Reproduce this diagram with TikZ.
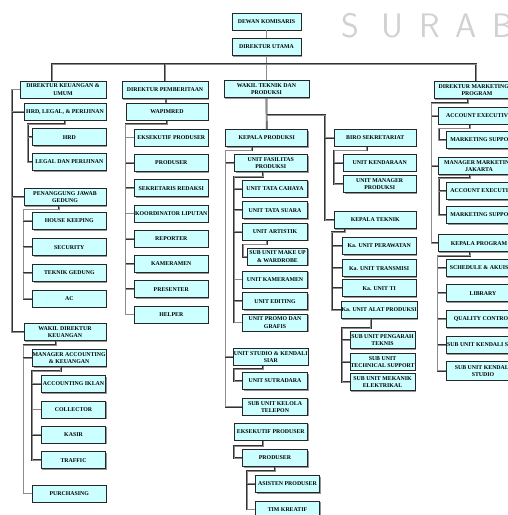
\documentclass[tikz,border=0pt]{standalone}
\usepackage{fontspec}
\setmainfont{Liberation Serif}
\usetikzlibrary{shadows}
\definecolor{boxcyan}{RGB}{204,255,255}
\begin{document}
\begin{tikzpicture}
[x=1pt,y=-1pt,
 boxdecorate/.style={shape=rectangle,draw=black!85,line width=0.8pt,fill=boxcyan,
   drop shadow={shadow xshift=1.2pt,shadow yshift=-1.2pt,fill=black!55,opacity=0.75},
   minimum height=17pt,inner sep=0.4pt,align=center,
   font=\fontsize{5.85}{7.2}\selectfont\bfseries},
 headbox/.style={boxdecorate,minimum width=86pt},
 leadbox/.style={boxdecorate,minimum width=82pt},
 unitbox/.style={boxdecorate,minimum width=73.5pt},
 subbox/.style={boxdecorate,minimum width=64.6pt},
 linedecorate/.style={draw=black!80,line width=0.45pt,double=black!45,double distance=0.8pt}]
\useasboundingbox (0,0) rectangle (508,515);
\clip (0,0) rectangle (508,515);
% watermark
\foreach \ch/\xx in {S/350,U/392,R/430,A/466,B/503}
  \node[text=black!18,font=\fontsize{34}{34}\selectfont\sffamily] at (\xx,26) {\ch};
% top
\node (kom) at (266.5,21.5) [boxdecorate,minimum width=69pt] {DEWAN KOMISARIS};
\node (utama) at (266.5,47) [boxdecorate,minimum width=69pt] {DIREKTUR UTAMA};
% keuangan
\node (dku) at (63,89.5) [headbox] {DIREKTUR KEUANGAN \&\\UMUM};
\node (hrdlegal) at (65,111.7) [leadbox] {HRD, LEGAL, \& PERIJINAN};
\node (hrd) at (69.3,137.2) [unitbox] {HRD};
\node (legal) at (69.3,162) [unitbox] {LEGAL DAN PERIJINAN};
\node (pjg) at (65,197.2) [leadbox] {PENANGGUNG JAWAB\\GEDUNG};
\node (hk) at (69.3,220.8) [unitbox] {HOUSE KEEPING};
\node (sec) at (69.3,247.2) [unitbox] {SECURITY};
\node (tg) at (69.3,273) [unitbox] {TEKNIK GEDUNG};
\node (ac) at (69.3,298.7) [unitbox] {AC};
\node (wdk) at (65,332.3) [leadbox] {WAKIL DIREKTUR\\KEUANGAN};
\node (mak) at (69.2,358) [unitbox] {MANAGER ACCOUNTING\\\& KEUANGAN};
\node (aci) at (73.5,383.8) [subbox] {ACCOUNTING IKLAN};
\node (col) at (73.5,409.5) [subbox] {COLLECTOR};
\node (kasir) at (73.5,434.7) [subbox] {KASIR};
\node (traffic) at (73.5,460.3) [subbox] {TRAFFIC};
\node (purch) at (69.2,493.5) [unitbox] {PURCHASING};
% pemberitaan
\node (dp) at (165,90) [headbox] {DIREKTUR PEMBERITAAN};
\node (wap) at (167,111.7) [leadbox] {WAPIMRED};
\node (ep) at (171.3,137.5) [unitbox] {EKSEKUTIF PRODUSER};
\node (prod) at (171.3,162.8) [unitbox] {PRODUSER};
\node (sr) at (171.3,188.1) [unitbox] {SEKRETARIS REDAKSI};
\node (kl) at (171.3,213.4) [unitbox] {KOORDINATOR LIPUTAN};
\node (rep) at (171.3,238.7) [unitbox] {REPORTER};
\node (kam) at (171.3,264) [unitbox] {KAMERAMEN};
\node (pre) at (171.3,289.3) [unitbox] {PRESENTER};
\node (hel) at (171.3,314.6) [unitbox] {HELPER};
% teknik dan produksi
\node (wtp) at (266.5,89.3) [headbox,minimum width=85pt] {WAKIL TEKNIK DAN\\PRODUKSI};
\node (kp) at (266.7,138) [leadbox] {KEPALA PRODUKSI};
\node (ufp) at (270.8,163.3) [unitbox,minimum width=73pt] {UNIT FASILITAS\\PRODUKSI};
\node (utc) at (275,188.7) [subbox] {UNIT TATA CAHAYA};
\node (uts) at (275,210.3) [subbox] {UNIT TATA SUARA};
\node (ua) at (275,231.7) [subbox] {UNIT ARTISTIK};
\node (sumu) at (277.5,256.7) [boxdecorate,minimum width=59.6pt] {SUB UNIT MAKE UP\\\& WARDROBE};
\node (uk) at (275,279.5) [subbox] {UNIT KAMERAMEN};
\node (ue) at (275,301.2) [subbox] {UNIT EDITING};
\node (upg) at (275,322.5) [subbox] {UNIT PROMO DAN\\GRAFIS};
\node (usks) at (270.8,356.7) [unitbox,minimum width=73pt] {UNIT STUDIO \& KENDALI\\SIAR};
\node (usut) at (275,381) [subbox] {UNIT SUTRADARA};
\node (sukt) at (275,406.7) [subbox] {SUB UNIT KELOLA\\TELEPON};
\node (ep2) at (270.8,431.7) [unitbox,minimum width=73pt] {EKSEKUTIF PRODUSER};
\node (prod2) at (275,458) [subbox] {PRODUSER};
\node (ap) at (287.5,483.8) [boxdecorate,minimum width=63.6pt] {ASISTEN PRODUSER};
\node (tk) at (287.5,509.5) [boxdecorate,minimum width=63.6pt] {TIM KREATIF};
\node (bs) at (375.2,137.7) [leadbox] {BIRO SEKRETARIAT};
\node (uken) at (379.7,162.7) [unitbox,minimum width=72.7pt] {UNIT KENDARAAN};
\node (ump) at (379.7,184.3) [unitbox,minimum width=72.7pt] {UNIT MANAGER\\PRODUKSI};
\node (kt) at (375.2,220) [leadbox] {KEPALA TEKNIK};
\node (kupw) at (379.2,246) [unitbox] {Ka. UNIT PERAWATAN};
\node (kutr) at (379.2,268.3) [unitbox] {Ka. UNIT TRANSMISI};
\node (kuti) at (379.2,288.3) [unitbox] {Ka. UNIT TI};
\node (kuap) at (379.2,310) [unitbox] {Ka. UNIT ALAT PRODUKSI};
\node (sup) at (382.5,340) [boxdecorate,minimum width=65pt] {SUB UNIT PENGARAH\\TEKNIS};
\node (sts) at (382.5,361.7) [boxdecorate,minimum width=65pt] {SUB UNIT\\TECHNICAL SUPPORT};
\node (sme) at (382.5,382) [boxdecorate,minimum width=65pt] {SUB UNIT MEKANIK\\ELEKTRIKAL};
% marketing
\node (dmp) at (477,90) [headbox] {DIREKTUR MARKETING \&\\PROGRAM};
\node (ae1) at (479,115.7) [leadbox] {ACCOUNT EXECUTIVE};
\node (ms1) at (483.3,140) [unitbox] {MARKETING SUPPORT};
\node (mmj) at (479,165.8) [leadbox] {MANAGER MARKETING\\JAKARTA};
\node (ae2) at (483.3,191) [unitbox] {ACCOUNT EXECUTIVE};
\node (ms2) at (483.3,215) [unitbox] {MARKETING SUPPORT};
\node (kpg) at (479,243.3) [leadbox] {KEPALA PROGRAM};
\node (sa) at (483,268) [unitbox] {SCHEDULE \& AKUISISI};
\node (lib) at (483,293.3) [unitbox] {LIBRARY};
\node (qc) at (483,319) [unitbox] {QUALITY CONTROL};
\node (suks) at (483,345) [unitbox] {SUB UNIT KENDALI SIAR};
\node (sukst) at (483,370.8) [unitbox,minimum height=18.3pt] {SUB UNIT KENDALI\\STUDIO};
% edges or lines
\begin{scope}[on background layer/.try]
\coordinate (busL) at (52,64);
\coordinate (busR) at (476,64);
\coordinate (sA) at (11.7,89.5);
\coordinate (tB) at (325,115);
\draw[linedecorate] (kom) -- (utama);
\draw[linedecorate] (utama) -- (utama |- busL);
\draw[linedecorate] (busL |- dku.north) -- (busL) -- (busR) -- (busR |- dmp.north);
\draw[linedecorate] (busL -| dp.north) -- (dp.north);
\draw[linedecorate] (busL -| wtp.north) -- (wtp.north);
% keuangan
\draw[linedecorate] (dku.west) -- (sA) |- (wdk.west);
\foreach \n in {hrdlegal,pjg} \draw[linedecorate] (sA |- \n.west) -- (\n.west);
\draw[linedecorate] (hrdlegal.south) -- ++(0,3.5) -| ([xshift=-4.4pt]legal.west) -- (legal.west);
\draw[linedecorate] ([xshift=-4.4pt]hrd.west) -- (hrd.west);
\draw[linedecorate] ([xshift=-6pt]pjg.south) -- ++(0,3.5) -| ([xshift=-8.7pt]ac.west) -- (ac.west);
\foreach \n in {hk,sec,tg} \draw[linedecorate] ([xshift=-8.7pt]\n.west) -- (\n.west);
\draw[linedecorate] ([xshift=-9pt]wdk.south) -- ++(0,4) -| ([xshift=-8.5pt]purch.west) -- (purch.west);
\draw[linedecorate] ([xshift=-8.5pt]mak.west) -- (mak.west);
\draw[linedecorate] ([xshift=-8.5pt]mak.south) -- ++(0,4) -| ([xshift=-8.7pt]traffic.west) -- (traffic.west);
\foreach \n in {aci,col,kasir} \draw[linedecorate] ([xshift=-8.7pt]\n.west) -- (\n.west);
% pemberitaan
\draw[linedecorate] (dp) -- (wap);
\draw[linedecorate] (wap.south) -- ++(0,3.5) -| ([xshift=-8.6pt]hel.west) -- (hel.west);
\foreach \n in {ep,prod,sr,kl,rep,kam,pre} \draw[linedecorate] ([xshift=-8.6pt]\n.west) -- (\n.west);
% teknik dan produksi
\draw[linedecorate] (wtp.south) -- (kp.north);
\draw[linedecorate] (wtp.south |- tB) -- (tB) |- (kt.west);
\draw[linedecorate] (tB |- bs.west) -- (bs.west);
\draw[linedecorate] ([xshift=-15pt]kp.south) -- ++(0,3.5) -| ([xshift=-16.7pt]sukt.west) -- (sukt.west);
\foreach \n in {ufp,usks} \draw[linedecorate] ([xshift=-8.3pt]\n.west) -- (\n.west);
\draw[linedecorate] ([xshift=-7.5pt]ufp.south) -- ++(0,4.5) -| ([xshift=-8.4pt]upg.west) -- (upg.west);
\foreach \n in {utc,uts,ua,uk,ue} \draw[linedecorate] ([xshift=-8.4pt]\n.west) -- (\n.west);
\draw[linedecorate] ([xshift=-8.3pt]ua.south) -- ++(0,4) -| ([xshift=-4.4pt]sumu.west) -- (sumu.west);
\draw[linedecorate] ([xshift=-7.8pt]usks.south) -- ++(0,3.5) -| ([xshift=-8.4pt]usut.west) -- (usut.west);
\draw[linedecorate] ([xshift=-7.5pt]ep2.south) -- ++(0,5.7) -| ([xshift=-8.4pt]prod2.west) -- (prod2.west);
\draw[linedecorate] (prod2.south) -- ++(0,4) -| ([xshift=-8pt]tk.west) -- (tk.west);
\draw[linedecorate] ([xshift=-8pt]ap.west) -- (ap.west);
\draw[linedecorate] ([xshift=-8.5pt]bs.south) -- ++(0,4) -| ([xshift=-9pt]ump.west) -- (ump.west);
\draw[linedecorate] ([xshift=-9pt]uken.west) -- (uken.west);
\draw[linedecorate] ([xshift=-30pt]kt.south) -- ++(0,3.2) -| ([xshift=-9pt]kuap.west) -- (kuap.west);
\foreach \n in {kupw,kutr,kuti} \draw[linedecorate] ([xshift=-9pt]\n.west) -- (\n.west);
\draw[linedecorate] ([xshift=-8.5pt]kuap.south) -- ++(0,9) -| ([xshift=-7.7pt]sme.west) -- (sme.west);
\foreach \n in {sup,sts} \draw[linedecorate] ([xshift=-7.7pt]\n.west) -- (\n.west);
% marketing
\draw[linedecorate] ([xshift=-8.7pt]dmp.south) -- ++(0,4) -| ([xshift=-6pt]kpg.west) -- (kpg.west);
\foreach \n in {ae1,mmj} \draw[linedecorate] ([xshift=-6pt]\n.west) -- (\n.west);
\draw[linedecorate] ([xshift=-9pt]ae1.south) -- ++(0,4) -| ([xshift=-7.4pt]ms1.west) -- (ms1.west);
\draw[linedecorate] ([xshift=-9pt]mmj.south) -- ++(0,3.5) -| ([xshift=-7.4pt]ms2.west) -- (ms2.west);
\draw[linedecorate] ([xshift=-7.4pt]ae2.west) -- (ae2.west);
\draw[linedecorate] ([xshift=-9pt]kpg.south) -- ++(0,3.5) -| ([xshift=-8.3pt]sukst.west) -- (sukst.west);
\foreach \n in {sa,lib,qc,suks} \draw[linedecorate] ([xshift=-8.3pt]\n.west) -- (\n.west);
\end{scope}
\end{tikzpicture}
\end{document}
